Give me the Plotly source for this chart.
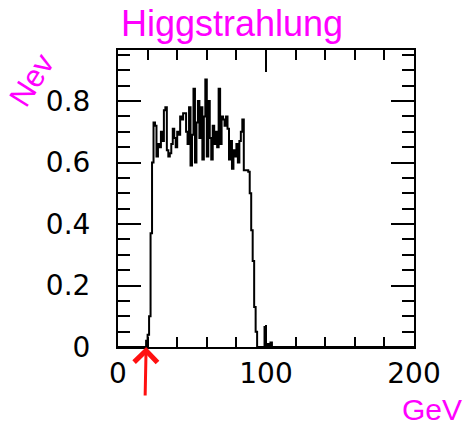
import numpy as np
import plotly.graph_objects as go

# Histogram: 1 GeV bins over 0-200 GeV, normalised event counts
bin_width = 1.0
x_min, x_max = 0, 200
first_bin = 18  # GeV, lower edge of the first listed bin
nev_bins = [
    0.0, 0.02, 0.04, 0.10, 0.37, 0.60, 0.73, 0.72, 0.62, 0.66,   # 18-27
    0.65, 0.70, 0.67, 0.77, 0.78, 0.64, 0.62, 0.63, 0.66, 0.71,  # 28-37
    0.68, 0.65, 0.70, 0.69, 0.75, 0.74, 0.76, 0.76, 0.70, 0.66,  # 38-47
    0.78, 0.59, 0.69, 0.84, 0.60, 0.73, 0.80, 0.68, 0.78, 0.61,  # 48-57
    0.75, 0.87, 0.62, 0.80, 0.68, 0.61, 0.72, 0.66, 0.70, 0.65,  # 58-67
    0.84, 0.66, 0.75, 0.74, 0.72, 0.75, 0.71, 0.61, 0.67, 0.58,  # 68-77
    0.64, 0.62, 0.66, 0.60, 0.67, 0.70, 0.74, 0.575, 0.575, 0.575,  # 78-87
    0.57, 0.50, 0.38, 0.28, 0.13, 0.05, 0.0, 0.0, 0.0, 0.0,      # 88-97
    0.0, 0.065, 0.0, 0.01, 0.0, 0.015, 0.0,                      # 98-104
]

x_tick_vals = [0, 100, 200]
x_tick_text = ["0", "100", "200"]
y_tick_vals = [0, 0.2, 0.4, 0.6, 0.8]
y_tick_text = ["0", "0.2", "0.4", "0.6", "0.8"]

edges = np.arange(x_min, x_max + bin_width, bin_width)
counts = np.zeros(len(edges) - 1)
counts[first_bin:first_bin + len(nev_bins)] = nev_bins

fig = go.Figure()
fig.add_trace(go.Scatter(
    x=edges,
    y=np.append(counts, counts[-1]),
    mode="lines",
    line=dict(color="black", width=2, shape="hv"),
    hoverinfo="skip",
    showlegend=False,
))

axis_font = dict(family="DejaVu Sans", size=28, color="black")
fig.update_xaxes(
    range=[x_min, x_max],
    tickmode="array", tickvals=x_tick_vals, ticktext=x_tick_text,
    ticks="inside", ticklen=22, tickwidth=2, tickcolor="black",
    minor=dict(ticks="inside", ticklen=10, tickwidth=2, tickcolor="black",
               dtick=20, tick0=0, showgrid=False),
    showline=True, linewidth=2, linecolor="black", mirror="ticks",
    showgrid=False, zeroline=False, tickfont=axis_font,
)
fig.update_yaxes(
    range=[0, 0.966],
    tickmode="array", tickvals=y_tick_vals, ticktext=y_tick_text,
    ticks="inside", ticklen=23, tickwidth=2, tickcolor="black",
    minor=dict(ticks="inside", ticklen=12, tickwidth=2, tickcolor="black",
               dtick=0.05, tick0=0, showgrid=False),
    showline=True, linewidth=2, linecolor="black", mirror="ticks",
    showgrid=False, zeroline=False, tickfont=axis_font, ticklabelstandoff=20,
)

pen = "#ff00ff"
hand_font = "Liberation Sans Narrow, Liberation Sans, sans-serif"
fig.update_layout(
    width=464, height=432,
    margin=dict(l=118, r=50, t=50, b=85),
    paper_bgcolor="white", plot_bgcolor="white",
    annotations=[
        dict(text="Higgstrahlung", xref="paper", yref="paper",
             x=0.385, y=1.0, xanchor="center", yanchor="bottom", yshift=4,
             showarrow=False, font=dict(family=hand_font, size=36, color=pen)),
        dict(text="Nev", xref="paper", yref="paper",
             x=-0.29, y=0.9, xanchor="center", yanchor="middle",
             textangle=-58, showarrow=False,
             font=dict(family=hand_font, size=31, color=pen)),
        dict(text="GeV", xref="paper", yref="paper",
             x=1.06, y=-0.212, xanchor="center", yanchor="middle",
             showarrow=False, font=dict(family=hand_font, size=30, color=pen)),
        dict(text="", x=19, y=0, xref="x", yref="y",
             showarrow=True, ax=-1, ay=50, axref="pixel", ayref="pixel",
             arrowhead=4, arrowsize=1.5, arrowwidth=3, arrowcolor="#ff1010",
             standoff=0),
    ],
)

fig.write_html("out.html")
